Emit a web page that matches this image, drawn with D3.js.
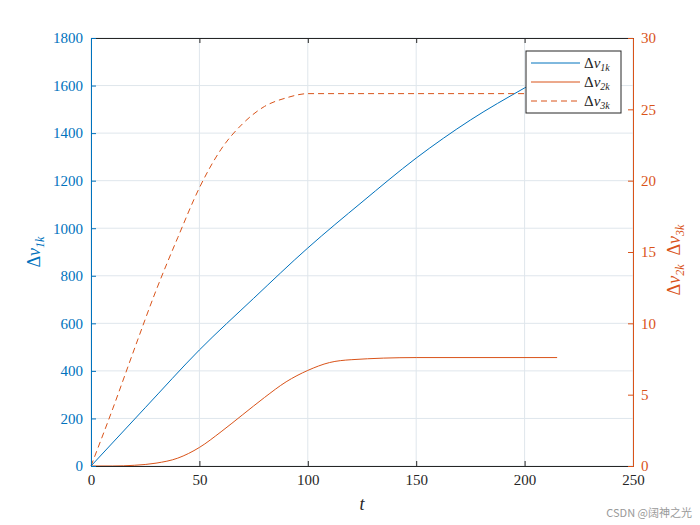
<!DOCTYPE html>
<html><head><meta charset="utf-8">
<script src="https://cdn.jsdelivr.net/npm/d3@7"></script>
<style>body{margin:0;background:#fff}text{font-family:"Liberation Serif",serif}</style>
</head><body><svg id="c" width="700" height="525"></svg>
<script>
// values
const t1 = [0, 25, 50, 75, 100, 125, 150, 175, 200, 215];
const v1 = [0, 245, 488, 705, 917, 1110, 1295, 1455, 1590, 1665];
const t2 = [0, 10, 20, 30, 40, 50, 60, 70, 80, 90, 100, 110, 120, 150, 215];
const v2 = [0, 0, 0.05, 0.2, 0.55, 1.3, 2.4, 3.6, 4.8, 5.9, 6.7, 7.25, 7.45, 7.6, 7.6];
const t3 = [0, 10, 20, 30, 40, 50, 60, 70, 80, 90, 100, 150, 215];
const v3 = [0, 4, 8.2, 12.3, 16, 19.5, 22.2, 24, 25.2, 25.8, 26.1, 26.1, 26.1];
const xTicks = [0, 50, 100, 150, 200, 250];
const yLTicks = d3.range(0, 1801, 200);
const yRTicks = d3.range(0, 31, 5);

const blue = "#0072BD", orange = "#D95319";
const L = 91, R = 633, T = 38, B = 466;
const svg = d3.select("#c");
const x = d3.scaleLinear().domain([0, 250]).range([L, R]);
const yl = d3.scaleLinear().domain([0, 1800]).range([B, T]);
const yr = d3.scaleLinear().domain([0, 30]).range([B, T]);

// grid
svg.append("g").selectAll("line").data(xTicks).join("line")
  .attr("x1", d => x(d)).attr("x2", d => x(d)).attr("y1", T).attr("y2", B)
  .attr("stroke", "#dfe6ec");
svg.append("g").selectAll("line").data(yLTicks).join("line")
  .attr("y1", d => yl(d)).attr("y2", d => yl(d)).attr("x1", L).attr("x2", R)
  .attr("stroke", "#dfe6ec");

const line = (ys) => d3.line().x(d => x(d[0])).y(d => ys(d[1])).curve(d3.curveMonotoneX);
svg.append("path").datum(t1.map((t, i) => [t, v1[i]])).attr("d", line(yl))
  .attr("fill", "none").attr("stroke", blue).attr("stroke-width", 1);
svg.append("path").datum(t2.map((t, i) => [t, v2[i]])).attr("d", line(yr))
  .attr("fill", "none").attr("stroke", orange).attr("stroke-width", 1);
svg.append("path").datum(t3.map((t, i) => [t, v3[i]])).attr("d", line(yr))
  .attr("fill", "none").attr("stroke", orange).attr("stroke-width", 1).attr("stroke-dasharray", "6,4");

// axes
const fmt = d3.format("d");
const ax = svg.append("g").attr("transform", `translate(0,${B})`)
  .call(d3.axisBottom(x).tickValues(xTicks).tickSize(-5).tickPadding(8).tickFormat(fmt));
const axT = svg.append("g").attr("transform", `translate(0,${T})`)
  .call(d3.axisTop(x).tickValues(xTicks).tickSize(-5).tickFormat(""));
const ayl = svg.append("g").attr("transform", `translate(${L},0)`)
  .call(d3.axisLeft(yl).tickValues(yLTicks).tickSize(-5).tickPadding(8).tickFormat(fmt));
const ayr = svg.append("g").attr("transform", `translate(${R},0)`)
  .call(d3.axisRight(yr).tickValues(yRTicks).tickSize(-5).tickPadding(8).tickFormat(fmt));
[ax, axT].forEach(g => g.selectAll("path,line").attr("stroke", "#262626"));
ax.selectAll("text").attr("fill", "#262626").style("font-size", "15px");
ayl.selectAll("path,line").attr("stroke", blue);
ayl.selectAll("text").attr("fill", blue).style("font-size", "15px");
ayr.selectAll("path,line").attr("stroke", orange);
ayr.selectAll("text").attr("fill", orange).style("font-size", "15px");
svg.selectAll(".domain").attr("stroke-width", 1);

// labels
svg.append("text").attr("x", x(125)).attr("y", 510).attr("text-anchor", "middle")
  .style("font-size", "18px").style("font-style", "italic").attr("fill", "#262626").text("t");
const lab = (g, color, parts) => {
  const tx = g.append("text").attr("fill", color).style("font-size", "18px").attr("text-anchor", "middle");
  parts.forEach(p => {
    tx.append("tspan").text("Δ");
    tx.append("tspan").style("font-style", "italic").text("v");
    tx.append("tspan").style("font-style", "italic").style("font-size", "12px").attr("dy", 4).text(p.sub);
    tx.append("tspan").attr("dy", -4).text(p.gap || "");
  });
  return tx;
};
lab(svg.append("g").attr("transform", `translate(40,${(T + B) / 2}) rotate(-90)`), blue, [{sub: "1k"}]);
lab(svg.append("g").attr("transform", `translate(680,${(T + B) / 2 + 8}) rotate(-90)`), orange,
  [{sub: "2k", gap: "\u2002"}, {sub: "3k"}]);

// legend
const lg = svg.append("g").attr("transform", "translate(526,51)");
lg.append("rect").attr("width", 95).attr("height", 62).attr("fill", "#fff").attr("stroke", "#262626");
const items = [{c: blue, d: null, s: "1k"}, {c: orange, d: null, s: "2k"}, {c: orange, d: "6,4", s: "3k"}];
items.forEach((it, i) => {
  const yy = 12 + i * 19;
  lg.append("line").attr("x1", 5).attr("x2", 54).attr("y1", yy).attr("y2", yy)
    .attr("stroke", it.c).attr("stroke-dasharray", it.d);
  const tx = lg.append("text").attr("x", 58).attr("y", yy + 5).style("font-size", "15px").attr("fill", "#262626");
  tx.append("tspan").text("Δ");
  tx.append("tspan").style("font-style", "italic").text("v");
  tx.append("tspan").style("font-style", "italic").style("font-size", "10px").attr("dy", 3).text(it.s);
});
svg.append("text").attr("x", 692).attr("y", 517).attr("text-anchor", "end")
  .style("font-size", "11px").style("font-family", "Noto Sans CJK SC").attr("fill", "#999").text("CSDN @阔神之光");
</script></body></html>
